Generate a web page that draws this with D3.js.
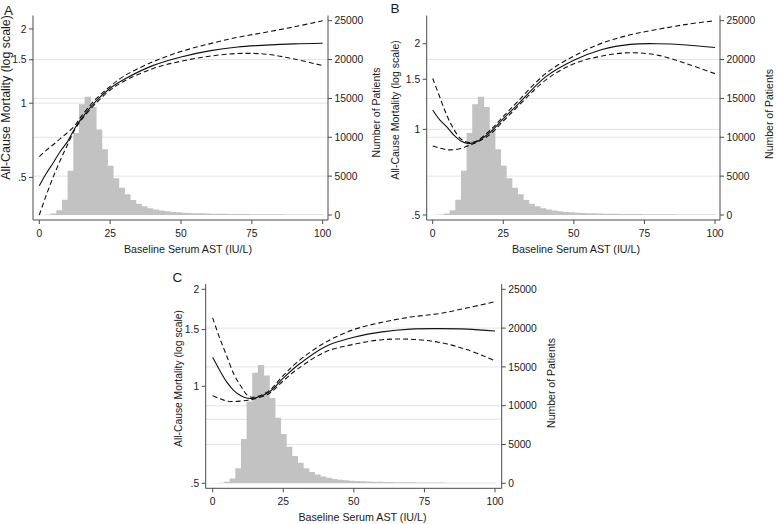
<!DOCTYPE html>
<html><head><meta charset="utf-8">
<script src="https://cdn.jsdelivr.net/npm/d3@7"></script>
<style>
html,body{margin:0;padding:0;background:#fff;}
svg{display:block;font-family:"Liberation Sans",Arial,Helvetica,sans-serif;}
</style></head>
<body>
<svg id="chart" width="777" height="524"></svg>
<script>
// ---------- DATA ----------
const astGrid = [0,2.5,5,7.5,10,12.5,15,20,25,30,40,50,60,70,80,90,100];

const aEstimate = [0.463,0.52,0.575,0.64,0.70,0.79,0.87,1.02,1.15,1.25,1.42,1.54,1.63,1.69,1.72,1.74,1.75];
const aUpper    = [0.607,0.645,0.68,0.72,0.76,0.81,0.89,1.04,1.17,1.29,1.47,1.62,1.74,1.85,1.94,2.04,2.16];
const aLower    = [0.352,0.425,0.505,0.59,0.68,0.78,0.86,1.00,1.13,1.23,1.38,1.48,1.55,1.59,1.58,1.51,1.42];

const bEstimate = [1.17,1.08,1.02,0.955,0.91,0.893,0.90,0.97,1.09,1.22,1.53,1.75,1.91,1.99,2.0,1.98,1.94];
const bUpper    = [1.51,1.30,1.12,1.0,0.925,0.90,0.905,0.985,1.11,1.25,1.57,1.81,2.01,2.15,2.25,2.34,2.41];
const bLower    = [0.874,0.86,0.848,0.848,0.857,0.875,0.895,0.955,1.07,1.20,1.49,1.70,1.81,1.86,1.82,1.70,1.57];

const cEstimate = [1.23,1.12,1.03,0.97,0.935,0.918,0.92,0.96,1.06,1.16,1.33,1.42,1.475,1.505,1.51,1.505,1.485];
const cUpper    = [1.63,1.41,1.24,1.09,1.0,0.935,0.925,0.97,1.08,1.19,1.37,1.50,1.58,1.64,1.68,1.75,1.83];
const cLower    = [0.935,0.915,0.90,0.897,0.90,0.905,0.915,0.95,1.04,1.13,1.28,1.35,1.395,1.40,1.37,1.30,1.20];

const histBinStart = [0,2,4,6,8,10,12,14,16,18,20,22,24,26,28,30,32,34,36,38,40,42,44,46,48,
                      50,52,54,56,58,60,62,64,66,68,70,72,74,76,78,80,82,84,86,88,90,92,94,96,98];
const histBinWidth = 2;
const histCounts = [30,60,200,620,1950,5700,10550,14250,15230,13900,11000,8450,6350,4720,3520,2660,1930,1460,1120,870,
                    700,570,470,400,340,300,260,230,210,190,175,160,150,140,130,122,115,108,102,96,
                    90,86,82,78,74,70,67,64,61,58];

const xTicks = [0,25,50,75,100];
const leftTicks = [0.5,1,1.5,2];
const leftTickLabels = [".5","1","1.5","2"];
const rightTicks = [0,5000,10000,15000,20000,25000];
const rightGrid = [5000,10000,15000,20000];

const panelLabels = ["A","B","C"];
const refLines = [1,1,0.79];
const leftDomains = [[0.352,2.16],[0.5,2.41],[0.5,2.0]];
const rightDomain = [0,25000];

const xTitle = "Baseline Serum AST (IU/L)";
const yLeftTitle = "All-Cause Mortality (log scale)";
const yRightTitle = "Number of Patients";

// ---------- LAYOUT ----------
const panels = [
  {label:panelLabels[0], est:aEstimate, up:aUpper, lo:aLower, ld:leftDomains[0], ref:refLines[0],
   top:20.7, bottom:215, x0:39.3, x1:322.7, axL:33, axR:328,
   lab:{x:4,y:14.8}, lt:{x:6.5,y:97.5,fs:12.4}, rt:{x:376,y:112.5}, xt:{x:188}},
  {label:panelLabels[1], est:bEstimate, up:bUpper, lo:bLower, ld:leftDomains[1], ref:refLines[1],
   top:20.7, bottom:215, x0:432.7, x1:715, axL:426.7, axR:720,
   lab:{x:390.5,y:13.2}, lt:{x:395.5,y:110,fs:10.5}, rt:{x:769.5,y:114}, xt:{x:576}},
  {label:panelLabels[2], est:cEstimate, up:cUpper, lo:cLower, ld:leftDomains[2], ref:refLines[2],
   top:289.3, bottom:483.3, x0:212.7, x1:495, axL:205.7, axR:501.7,
   lab:{x:172.5,y:282.2}, lt:{x:178,y:378.5,fs:10.3}, rt:{x:551,y:383}, xt:{x:362.5}}
];

const svg = d3.select("#chart");
const axisColor = "#4a4a4a";
const textColor = "#1a1a1a";
const gridColor = "#e3e3e3";
const barColor = "#c2c2c2";
const tickFs = 10.3;

panels.forEach(p => {
  const g = svg.append("g");
  const x = d3.scaleLinear().domain([0,100]).range([p.x0,p.x1]);
  const yL = d3.scaleLog().domain(p.ld).range([p.bottom,p.top]);
  const yR = d3.scaleLinear().domain(rightDomain).range([p.bottom,p.top]);
  const axTop = p.top - 5.2, axBot = p.bottom + 5;

  // gridlines
  g.selectAll("line.gr").data(rightGrid).join("line")
    .attr("x1",p.axL).attr("x2",p.axR)
    .attr("y1",d=>yR(d)).attr("y2",d=>yR(d))
    .attr("stroke",gridColor).attr("stroke-width",1);
  g.append("line").attr("x1",p.axL).attr("x2",p.axR)
    .attr("y1",yL(p.ref)).attr("y2",yL(p.ref))
    .attr("stroke",gridColor).attr("stroke-width",1);

  // histogram (one path, no seams between bins)
  const hist = d3.path();
  histBinStart.forEach((d,i)=>{
    hist.rect(x(d), yR(histCounts[i]), x(d+histBinWidth)-x(d)+0.6, yR(0)-yR(histCounts[i]));
  });
  g.append("path").attr("d",hist.toString()).attr("fill",barColor);

  // curves
  const line = d3.line().x((d,i)=>x(astGrid[i])).y(d=>yL(d)).curve(d3.curveCatmullRom.alpha(0.5));
  [[p.up,"5,3"],[p.lo,"5,3"],[p.est,null]].forEach(([arr,dash])=>{
    const path = g.append("path").attr("d",line(arr)).attr("fill","none")
      .attr("stroke","#111").attr("stroke-width",1.1);
    if(dash) path.attr("stroke-dasharray",dash);
  });

  // axes lines
  g.append("line").attr("x1",p.axL).attr("x2",p.axL).attr("y1",axTop).attr("y2",axBot)
    .attr("stroke",axisColor).attr("stroke-width",1);
  g.append("line").attr("x1",p.axR).attr("x2",p.axR).attr("y1",axTop).attr("y2",axBot)
    .attr("stroke",axisColor).attr("stroke-width",1);
  g.append("line").attr("x1",p.axL).attr("x2",p.axR).attr("y1",axBot).attr("y2",axBot)
    .attr("stroke",axisColor).attr("stroke-width",1);

  // x ticks
  xTicks.forEach(t=>{
    g.append("line").attr("x1",x(t)).attr("x2",x(t)).attr("y1",axBot).attr("y2",axBot+4)
      .attr("stroke",axisColor);
    g.append("text").attr("x",x(t)).attr("y",axBot+16.5).attr("text-anchor","middle")
      .attr("font-size",tickFs).attr("fill",textColor).text(t);
  });
  // left ticks
  leftTicks.forEach((t,i)=>{
    g.append("line").attr("x1",p.axL-4).attr("x2",p.axL).attr("y1",yL(t)).attr("y2",yL(t))
      .attr("stroke",axisColor);
    g.append("text").attr("x",p.axL-6.5).attr("y",yL(t)+3.7).attr("text-anchor","end")
      .attr("font-size",tickFs).attr("fill",textColor).text(leftTickLabels[i]);
  });
  // right ticks
  rightTicks.forEach(t=>{
    g.append("line").attr("x1",p.axR).attr("x2",p.axR+4).attr("y1",yR(t)).attr("y2",yR(t))
      .attr("stroke",axisColor);
    g.append("text").attr("x",p.axR+6.5).attr("y",yR(t)+3.7).attr("text-anchor","start")
      .attr("font-size",tickFs).attr("fill",textColor).text(t);
  });

  // titles
  g.append("text").attr("x",p.xt.x).attr("y",axBot+32.5).attr("text-anchor","middle")
    .attr("font-size",10.7).attr("fill",textColor).text(xTitle);
  g.append("text").attr("transform",`translate(${p.lt.x+3.7},${p.lt.y}) rotate(-90)`)
    .attr("text-anchor","middle").attr("font-size",p.lt.fs).attr("fill",textColor).text(yLeftTitle);
  g.append("text").attr("transform",`translate(${p.rt.x+3.7},${p.rt.y}) rotate(-90)`)
    .attr("text-anchor","middle").attr("font-size",10.5).attr("fill",textColor).text(yRightTitle);
  g.append("text").attr("x",p.lab.x).attr("y",p.lab.y).attr("font-size",13.5)
    .attr("fill",textColor).text(p.label);
});
</script>
</body></html>
